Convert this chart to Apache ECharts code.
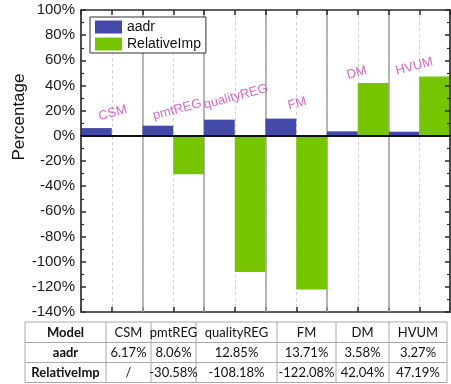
<!DOCTYPE html>
<html>
<head>
<meta charset="utf-8">
<script src="https://cdn.jsdelivr.net/npm/echarts@6/dist/echarts.min.js"></script>
<style>
  html, body { margin: 0; padding: 0; background: #fff; }
  #chart { width: 451px; height: 384px; }
</style>
</head>
<body>
<div id="chart"></div>
<script>
// Models compared and their scores (percent)
const models = ['CSM', 'pmtREG', 'qualityREG', 'FM', 'DM', 'HVUM'];
const aadr = [6.17, 8.06, 12.85, 13.71, 3.58, 3.27];
const relativeImp = [null, -30.58, -108.18, -122.08, 42.04, 47.19];
const seriesNames = ['aadr', 'RelativeImp'];
const rowHeaders = ['Model', 'aadr', 'RelativeImp'];

// Y axis range (percent)
const yMin = -140;
const yMax = 100;
const yStep = 20;

// Pixel nudges for the rotated model names above each group
const nameNudge = [[1, -15], [4, -16], [1, -23], [1, -15], [-1, -10], [-5, -10]];

// Table layout
const tableCols = [25, 106, 151, 196, 277, 336, 389, 447];
const tableRows = [322, 342.5, 362.5, 382.5];

const fmt = v => (v == null ? '/' : v.toFixed(2) + '%');

const chart = echarts.init(document.getElementById('chart'), null, { renderer: 'canvas' });

const AXIS = '#2a2a2a';
const axisFont = 'Liberation Sans';

function tableGraphics() {
  const els = [];
  const rows = [
    [rowHeaders[0]].concat(models),
    [rowHeaders[1]].concat(aadr.map(fmt)),
    [rowHeaders[2]].concat(relativeImp.map(fmt))
  ];
  const lineStyle = { stroke: '#a8a8a8', lineWidth: 1 };
  tableRows.forEach(y => {
    els.push({ type: 'line', shape: { x1: tableCols[0], y1: y, x2: tableCols[tableCols.length - 1], y2: y }, style: lineStyle });
  });
  tableCols.forEach(x => {
    els.push({ type: 'line', shape: { x1: x, y1: tableRows[0], x2: x, y2: tableRows[tableRows.length - 1] }, style: lineStyle });
  });
  rows.forEach((row, r) => {
    row.forEach((txt, c) => {
      els.push({
        type: 'text',
        x: (tableCols[c] + tableCols[c + 1]) / 2,
        y: (tableRows[r] + tableRows[r + 1]) / 2 + 0.5,
        style: {
          text: txt,
          fontFamily: 'Lato',
          fontSize: 13,
          fontWeight: c === 0 ? 'bold' : 'normal',
          fill: '#111',
          align: 'center',
          verticalAlign: 'middle'
        }
      });
    });
  });
  return els;
}

const option = {
  animation: false,
  backgroundColor: '#fff',
  grid: { left: 81, right: 1, top: 10, bottom: 72, containLabel: false },
  legend: {
    show: true,
    data: seriesNames,
    orient: 'vertical',
    left: 90,
    top: 17,
    itemWidth: 27,
    itemHeight: 13,
    itemGap: 3,
    padding: [3, 5, 2, 5],
    icon: 'rect',
    borderColor: '#333',
    borderWidth: 1,
    backgroundColor: '#fff',
    textStyle: { fontFamily: axisFont, fontSize: 14, color: '#111', padding: [0, 0, 0, 0] }
  },
  xAxis: [
    {
      // bar categories; its line marks the zero level
      type: 'category',
      data: models,
      position: 'bottom',
      boundaryGap: true,
      axisLine: { show: true, onZero: true, lineStyle: { color: '#111', width: 2 } },
      axisTick: { show: false },
      axisLabel: { show: false },
      splitLine: { show: false },
      z: 5
    },
    {
      // solid separators between model groups
      type: 'value',
      min: 0, max: 6, interval: 1,
      position: 'bottom',
      axisLine: { show: false },
      axisTick: { show: false },
      axisLabel: { show: false },
      splitLine: { show: true, lineStyle: { color: '#a0a0a0', width: 1.5 } },
      z: 3
    },
    {
      // dashed guides at each group centre plus bottom frame ticks
      type: 'value',
      min: 0, max: 12, interval: 1,
      position: 'bottom',
      axisLine: { show: true, onZero: false, lineStyle: { color: AXIS, width: 1.5 } },
      axisTick: { show: true, inside: true, length: 5, lineStyle: { color: AXIS, width: 1.5 } },
      axisLabel: { show: false },
      splitLine: { show: true, lineStyle: { color: '#cfcfcf', width: 1, type: [3, 3] } },
      z: 1
    },
    {
      // top frame
      type: 'value',
      min: 0, max: 12, interval: 1,
      position: 'top',
      axisLine: { show: true, onZero: false, lineStyle: { color: AXIS, width: 1.5 } },
      axisTick: { show: true, inside: true, length: 5, lineStyle: { color: AXIS, width: 1.5 } },
      axisLabel: { show: false },
      splitLine: { show: false },
      z: 4
    }
  ],
  yAxis: [
    {
      type: 'value',
      position: 'left',
      min: yMin, max: yMax, interval: yStep,
      axisLine: { show: true, onZero: false, lineStyle: { color: AXIS, width: 1.5 } },
      axisTick: { show: true, inside: true, length: 5, lineStyle: { color: AXIS, width: 1.5 } },
      minorTick: { show: true, splitNumber: 2, length: 3, lineStyle: { color: AXIS, width: 1.2 } },
      axisLabel: { show: true, formatter: '{value}%', fontFamily: axisFont, fontSize: 15, color: '#1a1a1a', margin: 6 },
      splitLine: { show: false },
      z: 4
    },
    {
      type: 'value',
      position: 'right',
      min: yMin, max: yMax, interval: yStep,
      axisLine: { show: true, onZero: false, lineStyle: { color: AXIS, width: 1.5 } },
      axisTick: { show: true, inside: true, length: 5, lineStyle: { color: AXIS, width: 1.5 } },
      minorTick: { show: true, splitNumber: 2, length: 3, lineStyle: { color: AXIS, width: 1.2 } },
      axisLabel: { show: false },
      splitLine: { show: false },
      z: 4
    }
  ],
  series: [
    {
      name: seriesNames[0],
      type: 'bar',
      xAxisIndex: 0, yAxisIndex: 0,
      data: aadr,
      barGap: '0%',
      barCategoryGap: '0%',
      itemStyle: { color: '#4349a8' },
      z: 3
    },
    {
      name: seriesNames[1],
      type: 'bar',
      xAxisIndex: 0, yAxisIndex: 0,
      data: relativeImp,
      barGap: '0%',
      barCategoryGap: '0%',
      itemStyle: { color: '#76c500' },
      z: 3
    },
    {
      // model names written above each group
      type: 'scatter',
      xAxisIndex: 0, yAxisIndex: 0,
      silent: true,
      symbol: 'rect',
      symbolSize: 1,
      itemStyle: { color: 'rgba(0,0,0,0)' },
      data: models.map((m, i) => ({
        value: Math.max(aadr[i], relativeImp[i] == null ? 0 : relativeImp[i], 0),
        symbolOffset: nameNudge[i]
      })),
      label: {
        show: true,
        position: 'inside',
        formatter: p => models[p.dataIndex],
        rotate: 15,
        color: '#cc44b6',
        fontFamily: axisFont,
        fontSize: 13,
        align: 'center',
        verticalAlign: 'middle'
      },
      z: 6
    }
  ],
  graphic: [
    {
      type: 'text',
      x: 19,
      y: 117,
      rotation: Math.PI / 2,
      style: {
        text: 'Percentage',
        fontFamily: axisFont,
        fontSize: 17,
        fill: '#111',
        align: 'center',
        verticalAlign: 'middle'
      }
    }
  ].concat(tableGraphics())
};

chart.setOption(option);
</script>
</body>
</html>
